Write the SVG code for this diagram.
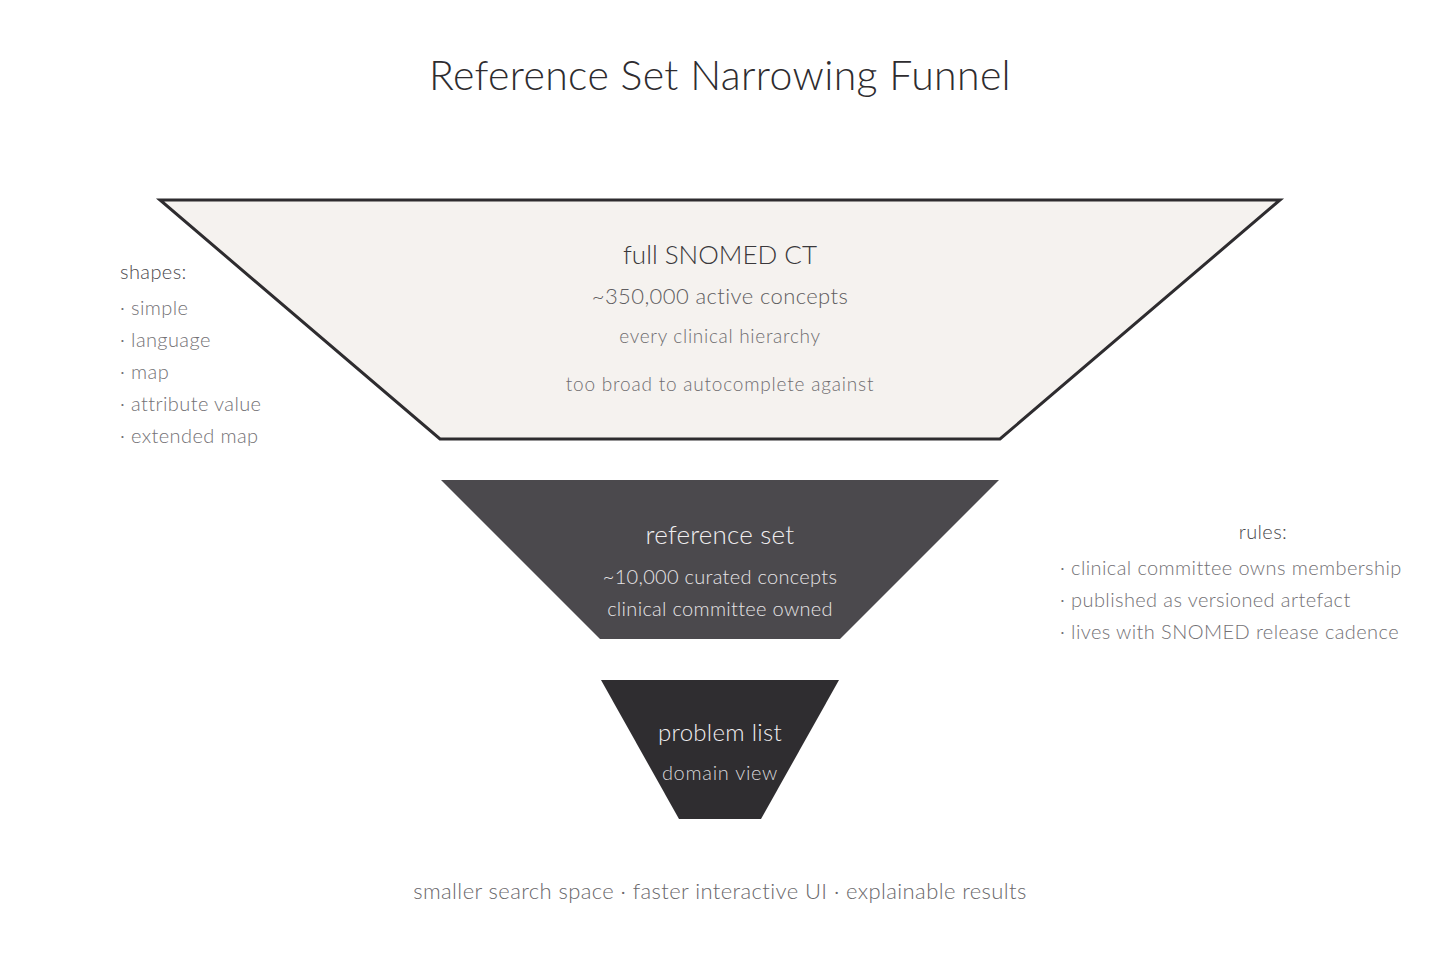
<svg xmlns="http://www.w3.org/2000/svg" width="1440" height="960" viewBox="0 0 1440 960">
<style>
text{font-family:Lato,"Open Sans","Liberation Sans",sans-serif;font-weight:300}
.c{text-anchor:middle}
.title{font-size:41px;fill:#2e2c2f;letter-spacing:0.35px}
.side{font-size:20px;fill:#737175;letter-spacing:0.4px}
.head{font-size:20px;fill:#4a484b;letter-spacing:0.4px}
</style>
<rect width="1440" height="960" fill="#ffffff"/>
<text class="c title" x="720" y="90">Reference Set Narrowing Funnel</text>
<g id="full-snomed">
<polygon points="160,200 1280,200 1000,439 440,439" fill="#f5f2ef" stroke="#2e2c2f" stroke-width="3" stroke-linejoin="miter"/>
<text class="c" x="720" y="264" font-size="26" fill="#3a383b">full SNOMED CT</text>
<text class="c" x="720" y="304" font-size="22" fill="#5f5d60" letter-spacing="0.4">~350,000 active concepts</text>
<text class="c" x="720" y="343" font-size="19" fill="#6f6d70" letter-spacing="0.7">every clinical hierarchy</text>
<text class="c" x="720" y="391" font-size="19" fill="#6f6d70" letter-spacing="0.8">too broad to autocomplete against</text>
</g>
<g id="reference-set">
<polygon points="441,480 999,480 840,639 600,639" fill="#4b494d"/>
<text class="c" x="720" y="544" font-size="26" fill="#f0eef0" letter-spacing="0.2">reference set</text>
<text class="c" x="720" y="584" font-size="20" fill="#e6e4e6" letter-spacing="0.3">~10,000 curated concepts</text>
<text class="c" x="720" y="616" font-size="20" fill="#e6e4e6" letter-spacing="0.3">clinical committee owned</text>
</g>
<g id="problem-list">
<polygon points="601,680 839,680 761,819 679,819" fill="#2f2d30"/>
<text class="c" x="720" y="741" font-size="24" fill="#f0eef0" letter-spacing="0.3">problem list</text>
<text class="c" x="720" y="780" font-size="20" fill="#d8d6d9" letter-spacing="0.7">domain view</text>
</g>
<g id="shapes-note">
<text class="head" x="120" y="279">shapes:</text>
<text class="side" x="120" y="315">· simple</text>
<text class="side" x="120" y="347">· language</text>
<text class="side" x="120" y="379">· map</text>
<text class="side" x="120" y="411">· attribute value</text>
<text class="side" x="120" y="443">· extended map</text>
</g>
<g id="rules-note">
<text class="head c" x="1263" y="539">rules:</text>
<text class="side" x="1060" y="575">· clinical committee owns membership</text>
<text class="side" x="1060" y="607">· published as versioned artefact</text>
<text class="side" x="1060" y="639">· lives with SNOMED release cadence</text>
</g>
<g id="connectors"></g>
<text class="c" x="720" y="899" font-size="22" fill="#6a686b" letter-spacing="0.4">smaller search space · faster interactive UI · explainable results</text>
</svg>
